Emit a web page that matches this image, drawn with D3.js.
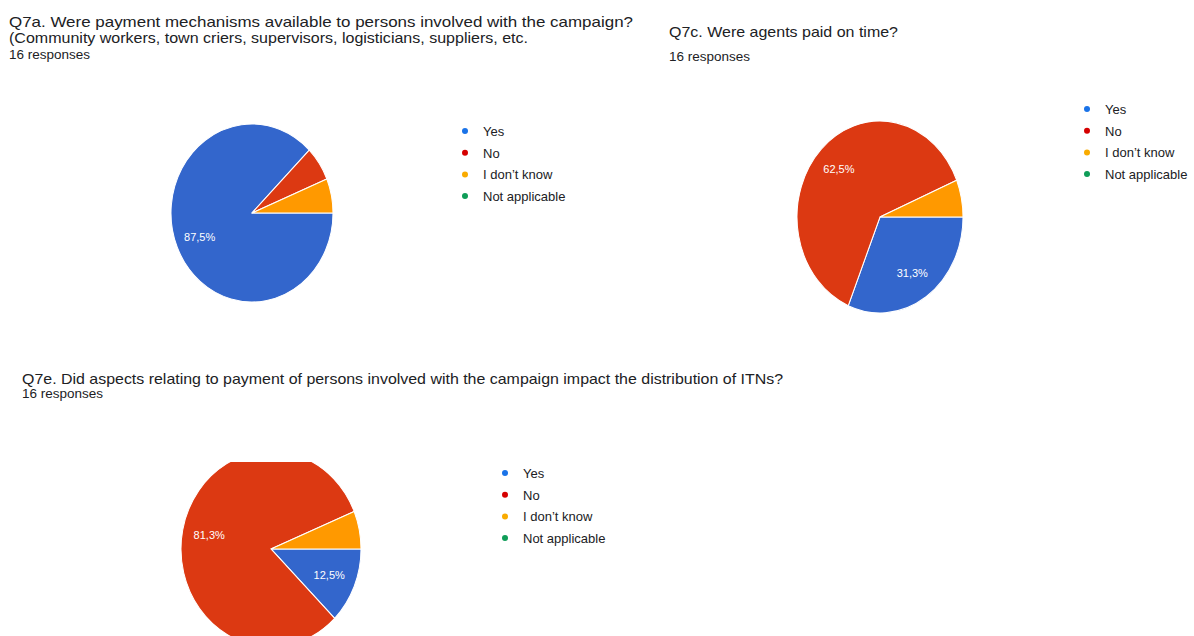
<!DOCTYPE html>
<html>
<head>
<meta charset="utf-8">
<script src="https://cdn.jsdelivr.net/npm/d3@7"></script>
<style>
  body { margin: 0; background: #fff; }
  text { font-family: "Liberation Sans", Arial, sans-serif; }
</style>
</head>
<body>
<div id="chart"></div>
<script>
const categories = ['Yes', 'No', 'I don’t know', 'Not applicable'];
const q7aCounts = [14, 1, 1, 0];
const q7cCounts = [5, 10, 1, 0];
const q7eCounts = [2, 13, 1, 0];

const sliceColors = ['#3366cc', '#dc3912', '#ff9900', '#109618'];
const dotColors = ['#1a73e8', '#d50000', '#f9ab00', '#0f9d58'];

const width = 1194;
const height = 636;

const svg = d3.select('#chart')
  .append('svg')
  .attr('width', width)
  .attr('height', height);

const defs = svg.append('defs');
defs.append('clipPath').attr('id', 'clip3')
  .append('rect').attr('x', 0).attr('y', 462).attr('width', width).attr('height', 200);

// text helper: fixed widths to mimic the narrow source font
function label(x, y, str, size, w, color) {
  const t = svg.append('text')
    .attr('x', x).attr('y', y)
    .style('font-size', size + 'px')
    .attr('fill', color || '#202124')
    .text(str);
  if (w) t.attr('textLength', w).attr('lengthAdjust', 'spacingAndGlyphs');
  return t;
}

const charts = [
  {
    counts: q7aCounts,
    title: [
      ['Q7a. Were payment mechanisms available to persons involved with the campaign?', 9, 27, 624],
      ['(Community workers, town criers, supervisors, logisticians, suppliers, etc.', 9, 43, 519]
    ],
    resp: [9, 59],
    cx: 252, cy: 213, rx: 81, ry: 89,
    legend: [465, 132]
  },
  {
    counts: q7cCounts,
    title: [['Q7c. Were agents paid on time?', 669, 37, 229]],
    resp: [669, 61],
    cx: 880, cy: 217, rx: 83, ry: 96,
    legend: [1087, 110]
  },
  {
    counts: q7eCounts,
    title: [['Q7e. Did aspects relating to payment of persons involved with the campaign impact the distribution of ITNs?', 22, 384, 761]],
    resp: [22, 398],
    cx: 271, cy: 549, rx: 90, ry: 98,
    legend: [505, 474],
    clip: 'url(#clip3)'
  }
];

const pie = d3.pie().sort(null)
  .startAngle(Math.PI / 2)
  .endAngle(Math.PI / 2 + 2 * Math.PI);

charts.forEach((c) => {
  c.title.forEach((t) => label(t[1], t[2], t[0], 15, t[3]));
  label(c.resp[0], c.resp[1], '16 responses', 12, 81);

  const total = d3.sum(c.counts);
  const data = categories.map((k, i) => ({ key: k, value: c.counts[i], i: i }));
  const arcs = pie.value((d) => d.value)(data).filter((a) => a.data.value > 0);
  const arc = d3.arc().innerRadius(0).outerRadius(c.rx);
  const labelArc = d3.arc().innerRadius(c.rx * 0.7).outerRadius(c.rx * 0.7);

  const outer = svg.append('g');
  if (c.clip) outer.attr('clip-path', c.clip);
  const g = outer.append('g')
    .attr('transform', `translate(${c.cx},${c.cy}) scale(1,${c.ry / c.rx})`);

  g.selectAll('path')
    .data(arcs)
    .enter()
    .append('path')
    .attr('d', arc)
    .attr('fill', (d) => sliceColors[d.data.i])
    .attr('stroke', '#fff')
    .attr('stroke-width', 1);

  g.selectAll('text')
    .data(arcs.filter((d) => d.data.value / total > 0.1))
    .enter()
    .append('text')
    .attr('transform', (d) => {
      const p = labelArc.centroid(d);
      return `translate(${p[0]},${p[1]}) scale(1,${c.rx / c.ry})`;
    })
    .attr('text-anchor', 'middle')
    .attr('dy', '0.35em')
    .attr('fill', '#fff')
    .style('font-size', '11px')
    .text((d) => d3.format('.1f')(d.data.value / total * 100).replace('.', ',') + '%');

  // legend
  const lg = svg.append('g').attr('transform', `translate(${c.legend[0]},${c.legend[1]})`);
  categories.forEach((k, i) => {
    lg.append('circle').attr('cx', 0).attr('cy', i * 21.7 - 1).attr('r', 3)
      .attr('fill', dotColors[i]);
    lg.append('text').attr('x', 18).attr('y', i * 21.7 + 4)
      .style('font-size', '13px').attr('fill', '#202124').text(k);
  });
});
</script>
</body>
</html>
